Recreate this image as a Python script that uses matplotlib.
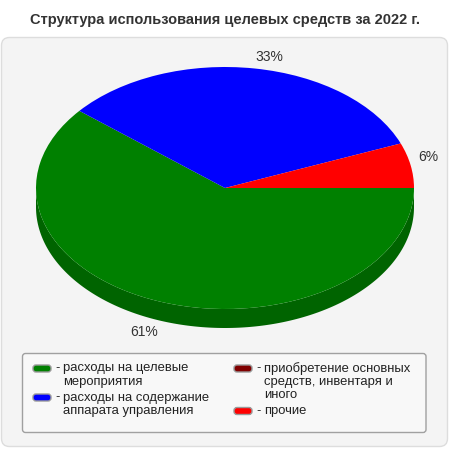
import matplotlib.pyplot as plt
import numpy as np
from matplotlib.patches import FancyBboxPatch

plt.rcParams['font.family'] = ['Liberation Sans', 'DejaVu Sans']

title = 'Структура использования целевых средств за 2022 г.'
categories = ['расходы на целевые\nмероприятия',
              'расходы на содержание\nаппарата управления',
              'приобретение основных\nсредств, инвентаря и\nиного',
              'прочие']
values = [61, 33, 0, 6]
colors = ['#008000', '#0000ff', '#800000', '#ff0000']
side_colors = ['#006400', '#0000b4', '#5a0000', '#b40000']

W = H = 450
cx, cy = 225, 188      # pie centre (px from top-left)
rx, ry = 189, 121      # ellipse radii
depth = 19

fig = plt.figure(figsize=(4.5, 4.5), dpi=100)
fig.patch.set_facecolor('white')

# background panel, title, legend in pixel coordinates
bg = fig.add_axes([0, 0, 1, 1])
bg.set_xlim(0, W)
bg.set_ylim(H, 0)
bg.axis('off')
bg.add_patch(FancyBboxPatch((1.5, 37.5), 446, 409, boxstyle='round,pad=0,rounding_size=8',
                            fc='#f4f4f4', ec='#dddddd', lw=1))
bg.text(W / 2, 20, title, ha='center', va='center', fontsize=10.5,
        fontweight='bold', color='#333333')

# pie
ax = fig.add_axes([0, 0, 1, 1], zorder=2)
ax.patch.set_alpha(0)
wedges, _ = ax.pie(values, colors=colors, startangle=0, counterclock=False,
                   wedgeprops=dict(linewidth=0))
ax.set_aspect('auto')
ax.set_xlim(-cx / rx, (W - cx) / rx)
ax.set_ylim(-(H - cy) / ry, cy / ry)
ax.axis('off')

d = depth / ry
for w, sc in zip(wedges, side_colors):
    t1, t2 = w.theta1, w.theta2
    for k in (-1, 0, 1):
        lo = max(t1, -180 + 360 * k)
        hi = min(t2, 360 * k)
        if hi <= lo:
            continue
        th = np.radians(np.linspace(lo, hi, 200))
        xs = np.concatenate([np.cos(th), np.cos(th[::-1])])
        ys = np.concatenate([np.sin(th), np.sin(th[::-1]) - d])
        ax.fill(xs, ys, color=sc, lw=0, zorder=0.5)

# percentage labels
total = sum(values)
for w, v in zip(wedges, values):
    if v == 0:
        continue
    mid = np.radians((w.theta1 + w.theta2) / 2)
    x, y = 1.04 * np.cos(mid), 1.04 * np.sin(mid)
    if y < 0:
        y -= d
    ax.text(x, y, f'{round(v / total * 100)}%', fontsize=10, color='#333333',
            ha='left' if x > 0 else 'right', va='bottom' if y > 0 else 'top')

# legend
bg.add_patch(FancyBboxPatch((22.5, 353.5), 403.5, 79, boxstyle='round,pad=0,rounding_size=3',
                            fc='#f8f8f8', ec='#a0a0a0', lw=1))
col_x = [33, 234]
row_start = 368.5
pitch = 13.5
for i, (lab, c) in enumerate(zip(categories, colors)):
    col = i // 2
    if i % 2 == 0:
        y = row_start
    x = col_x[col]
    bg.add_patch(FancyBboxPatch((x, y - 3.5), 18, 7, boxstyle='round,pad=0,rounding_size=3',
                                fc=c, ec='#9a9a9a', lw=1))
    bg.text(x + 22, y, '-', fontsize=9.4, color='#222222', ha='left', va='center')
    for line in lab.split('\n'):
        bg.text(x + 30, y, line, fontsize=9.4, color='#222222', ha='left', va='center')
        y += pitch
    y += 2

fig.savefig('out.png', dpi=100)
